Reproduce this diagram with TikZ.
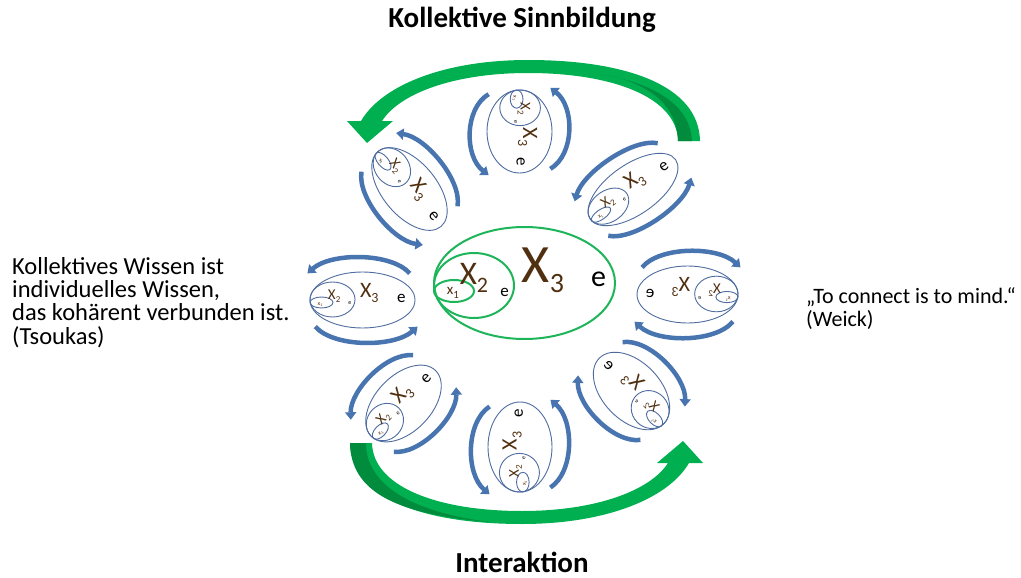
\documentclass[tikz,border=0pt]{standalone}
\usepackage{fontspec}
\setmainfont{Carlito}
\usetikzlibrary{arrows.meta}
\definecolor{brownx}{RGB}{80,48,16}
\definecolor{bluel}{RGB}{78,108,160}
\definecolor{bluea}{RGB}{72,116,176}
\definecolor{greenl}{RGB}{30,180,90}
\definecolor{greena}{RGB}{0,176,80}
\definecolor{greend}{RGB}{0,140,60}
\newcommand{\xsub}[5]{{\fontsize{#1}{#1}\selectfont #5}\raisebox{-#3}{\fontsize{#2}{#2}\selectfont #4}}
\newcommand{\bunit}[7]{%
\begin{scope}[shift={(#2,#3)}, rotate=#4, xscale=#6, yscale=#7]
\draw[bell] (0,0) ellipse [x radius=1, y radius=1];
\draw[bell] (-0.571,-0.018) ellipse [x radius=0.429, y radius=0.625];
\draw[bell] (-0.781,0.089) ellipse [x radius=0.219, y radius=0.196];
\node[xtxt, rotate=#4, xscale=#5] (#1-x3) at (0.13,-0.25) {\xsub{22}{14}{5pt}{3}{X}};
\node[etxt, rotate=#4, xscale=#5] (#1-e3) at (0.74,-0.04) {\fontsize{17}{17}\selectfont e};
\node[xtxt, rotate=#4, xscale=#5] (#1-x2) at (-0.54,-0.14) {\xsub{15}{9}{3pt}{2}{X}};
\node[etxt, rotate=#4, xscale=#5] (#1-e2) at (-0.24,0.12) {\fontsize{6}{6}\selectfont e};
\node[xtxt, rotate=#4, xscale=#5] (#1-x1) at (-0.81,0.16) {\xsub{6}{4}{1.2pt}{1}{x}};
\draw[barrow] (0.9,-0.95) .. controls (0.55,-1.7) and (-0.6,-1.7) .. (-1.05,-0.95);
\draw[barrow] (-0.9,0.95) .. controls (-0.55,1.7) and (0.6,1.7) .. (1.05,0.95);
\end{scope}}
\begin{document}
\begin{tikzpicture}[x=1pt,y=-1pt,
  bell/.style={draw=bluel, line width=0.9pt},
  barrow/.style={draw=bluea, line width=4.5pt, -{Triangle[width=11pt,length=7.5pt]}},
  gell/.style={draw=greenl, line width=2pt},
  xtxt/.style={text=brownx, inner sep=0pt},
  etxt/.style={text=black, inner sep=0pt},
  title/.style={font=\bfseries\fontsize{29}{29}\selectfont, inner sep=0pt},
  side/.style={anchor=north west, align=left, inner sep=0pt}]
\useasboundingbox (0,0) rectangle (1021,578);
% big green arrows
\fill[greena] (700,141) .. controls (699,85) and (625,60) .. (528,60) .. controls (445,60) and (382,85) .. (361,121) -- (347,121) -- (367,143) -- (393,121) -- (382,121) .. controls (400,93) and (455,73) .. (528,73) .. controls (612,73) and (677,97) .. (678,141) -- cycle;
\fill[greend] (678,141) .. controls (677,100) and (640,80) .. (600,74) .. controls (645,82) and (690,100) .. (692,141) -- cycle;
\begin{scope}[rotate around={180:(525,292)}]
\fill[greena] (700,141) .. controls (699,85) and (625,60) .. (528,60) .. controls (445,60) and (382,85) .. (361,121) -- (347,121) -- (367,143) -- (393,121) -- (382,121) .. controls (400,93) and (455,73) .. (528,73) .. controls (612,73) and (677,97) .. (678,141) -- cycle;
\fill[greend] (700,141) .. controls (699,95) and (660,70) .. (560,62) .. controls (640,72) and (684,100) .. (684,141) -- cycle;
\end{scope}
% central
\draw[gell] (524.5,283) ellipse [x radius=90.5, y radius=56];
\draw[gell] (474,285.5) ellipse [x radius=40, y radius=32.5];
\draw[gell] (454,291) ellipse [x radius=20, y radius=11];
\node[xtxt] (cx3) at (543,270) {\xsub{54}{28}{10pt}{3}{X}};
\node[etxt] (ce3) at (598.5,279) {\fontsize{30}{30}\selectfont e};
\node[xtxt] (cx2) at (474,277.5) {\xsub{33}{22}{8pt}{2}{X}};
\node[etxt] (ce2) at (504.5,292) {\fontsize{17}{17}\selectfont e};
\node[xtxt] (cx1) at (453,293) {\xsub{15}{11}{4pt}{1}{x}};
% blue units: name, cx, cy, rot, mirror, mirror*A, P
\bunit{ul}{362.5}{300}{0}{1}{52.5}{28}
\bunit{utl}{409.5}{189}{-50}{1}{49}{27}
\bunit{ut}{519.5}{131.5}{-90}{1}{41.5}{32.5}
\bunit{utr}{633}{189.5}{35}{1}{52}{25}
\bunit{ur}{687.5}{294.5}{0}{-1}{-50.5}{28.5}
\bunit{ubr}{631.5}{391}{-46}{-1}{-46}{29}
\bunit{ub}{520}{447}{90}{1}{45}{32}
\bunit{ubl}{403.5}{403.5}{46}{1}{46}{28}
% texts
\node[title] (t1) at (522,20) {Kollektive Sinnbildung};
\node[title] (t2) at (522,562) {Interaktion};
\node[side, font=\fontsize{24.5}{23.3}\selectfont] (lt) at (12,257) {Kollektives Wissen ist\\individuelles Wissen,\\das kohärent verbunden ist.\\(Tsoukas)};
\node[side, font=\fontsize{22}{23}\selectfont] (rt) at (806,287) {„To connect is to mind.“\\(Weick)};
\end{tikzpicture}
\end{document}
